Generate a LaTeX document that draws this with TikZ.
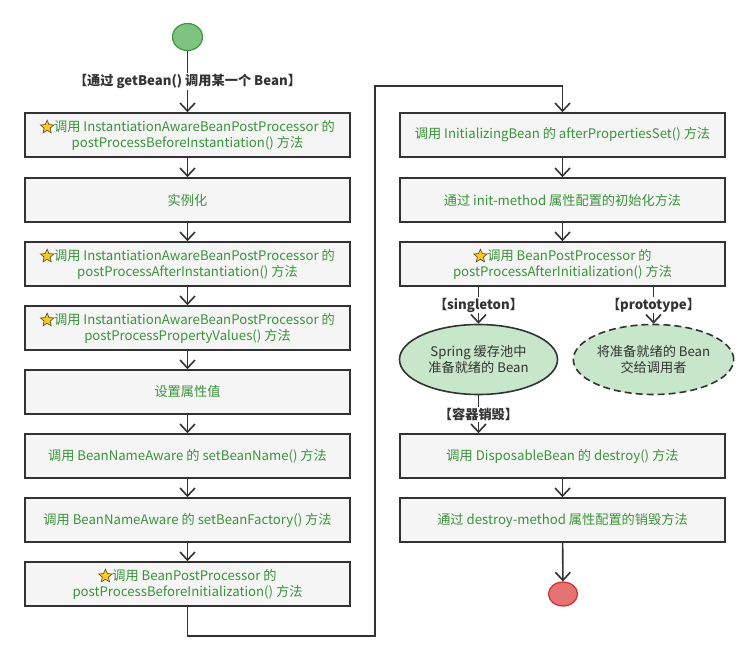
\documentclass[tikz,border=0pt]{standalone}
\usepackage{fontspec}
\setmainfont{Noto Sans CJK SC}
\usetikzlibrary{arrows.meta,shapes.geometric}
\definecolor{lineC}{HTML}{333333}
\definecolor{boxF}{HTML}{F5F5F5}
\definecolor{txtG}{RGB}{58,148,58}
\definecolor{ellF}{RGB}{200,230,201}
\definecolor{startF}{RGB}{126,196,126}
\definecolor{startD}{RGB}{64,150,64}
\definecolor{endF}{RGB}{229,115,115}
\definecolor{endD}{RGB}{210,45,45}
\definecolor{starY}{RGB}{250,200,40}
\definecolor{starD}{RGB}{90,70,20}
\newcommand\stc{\tikz[baseline=-4.5pt]\node[star,star points=5,star point ratio=2.2,draw=starD,fill=starY,line width=0.6pt,inner sep=0pt,minimum size=14pt]{};}
\tikzset{
  stepbox/.style={draw=lineC,line width=1.6pt,fill=boxF,minimum width=325pt,minimum height=44pt,
    text=txtG,align=center,inner sep=0pt,font=\fontsize{13.2}{15.5}\selectfont},
  ell/.style={ellipse,draw=lineC,line width=1.6pt,fill=ellF,minimum width=158pt,minimum height=70pt,
    text=lineC,align=center,inner sep=0pt,font=\fontsize{13.2}{15.5}\selectfont},
  arr/.style={draw=lineC,line width=1.6pt,-{Straight Barb[length=8pt,width=15pt]}},
  lab/.style={fill=white,text=lineC,inner sep=1pt,font=\bfseries\fontsize{13.2}{15}\selectfont}
}
\begin{document}
\begin{tikzpicture}[x=1pt,y=-1pt]
\useasboundingbox (0,0) rectangle (750,661);
% start / end
\node[ellipse,draw=startD,fill=startF,line width=1.2pt,minimum width=30pt,minimum height=27pt,inner sep=0pt] (start) at (187.5,37) {};
\node[ellipse,draw=endD,fill=endF,line width=1.2pt,minimum width=29pt,minimum height=24pt,inner sep=0pt] (end) at (563,594) {};
% left column
\node[stepbox] (b1) at (187.5,135) {\stc 调用 InstantiationAwareBeanPostProcessor 的\\postProcessBeforeInstantiation() 方法};
\node[stepbox] (b2) at (187.5,200) {实例化};
\node[stepbox] (b3) at (187.5,264) {\stc 调用 InstantiationAwareBeanPostProcessor 的\\postProcessAfterInstantiation() 方法};
\node[stepbox] (b4) at (187.5,328) {\stc 调用 InstantiationAwareBeanPostProcessor 的\\postProcessPropertyValues() 方法};
\node[stepbox] (b5) at (187.5,392) {设置属性值};
\node[stepbox] (b6) at (187.5,456) {调用 BeanNameAware 的 setBeanName() 方法};
\node[stepbox] (b7) at (187.5,520) {调用 BeanNameAware 的 setBeanFactory() 方法};
\node[stepbox] (b8) at (187.5,584) {\stc 调用 BeanPostProcessor 的\\postProcessBeforeInitialization() 方法};
% right column
\node[stepbox] (r1) at (562.5,135) {调用 InitializingBean 的 afterPropertiesSet() 方法};
\node[stepbox] (r2) at (562.5,200) {通过 init-method 属性配置的初始化方法};
\node[stepbox] (r3) at (562.5,264) {\stc 调用 BeanPostProcessor 的\\postProcessAfterInitialization() 方法};
\node[ell] (e1) at (478.5,359.5) {Spring 缓存池中\\准备就绪的 Bean};
\node[ell,dashed,dash pattern=on 7pt off 4pt,minimum width=143pt] (e2) at (653.5,359.5) {将准备就绪的 Bean\\交给调用者};
\node[stepbox] (r4) at (562.5,456) {调用 DisposableBean 的 destroy() 方法};
\node[stepbox] (r5) at (562.5,520) {通过 destroy-method 属性配置的销毁方法};
\coordinate (c1) at (375,636);
\coordinate (c2) at (375,86);
% connectors
\draw[arr] (start) -- node[lab]{【通过 getBean() 调用某一个 Bean】} (b1);
\draw[arr] (b1) -- (b2);
\draw[arr] (b2) -- (b3);
\draw[arr] (b3) -- (b4);
\draw[arr] (b4) -- (b5);
\draw[arr] (b5) -- (b6);
\draw[arr] (b6) -- (b7);
\draw[arr] (b7) -- (b8);
\draw[arr] (b8.south) |- (c1) -- (c2) -| (r1.north);
\draw[arr] (r1) -- (r2);
\draw[arr] (r2) -- (r3);
\draw[arr] (r3.south -| e1.north) -- node[lab]{【singleton】} (e1.north);
\draw[arr] (r3.south -| e2.north) -- node[lab]{【prototype】} (e2.north);
\draw[arr] (e1.south) -- node[lab]{【容器销毁】} (e1.south |- r4.north);
\draw[arr] (r4) -- (r5);
\draw[arr] (r5) -- (end);
\end{tikzpicture}
\end{document}
